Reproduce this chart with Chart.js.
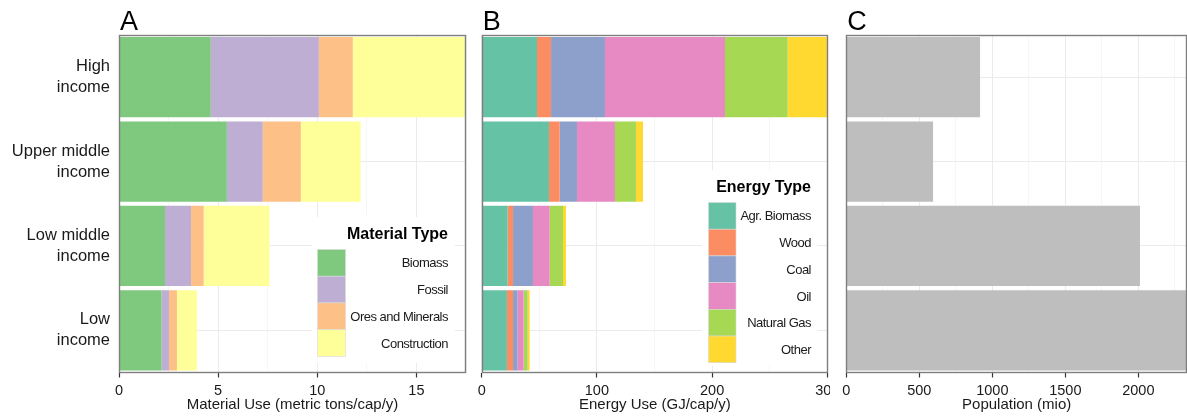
<!DOCTYPE html>
<html>
<head>
<meta charset="utf-8">
<script src="https://cdn.jsdelivr.net/npm/chart.js@4.4.1/dist/chart.umd.min.js"></script>
<style>
  html, body { margin: 0; padding: 0; background: #fff; }
  #wrap { position: relative; width: 1187px; height: 418px; overflow: hidden; }
  canvas { position: absolute; top: 0; }
</style>
</head>
<body>
<div id="wrap">
  <canvas id="chartA" width="470" height="418" style="left:0px"></canvas>
  <canvas id="chartB" width="360" height="418" style="left:470px"></canvas>
  <canvas id="chartC" width="353" height="418" style="left:834px"></canvas>
</div>
<script>
// categories (top to bottom)
const incomeGroups = [['High', 'income'], ['Upper middle', 'income'], ['Low middle', 'income'], ['Low', 'income']];

// panel A - material use (metric tons/cap/y)
const materialTypes = ['Biomass', 'Fossil', 'Ores and Minerals', 'Construction'];
const materialColors = ['#7fc97f', '#beaed4', '#fdc086', '#ffff99'];
const biomass = [4.63, 5.44, 2.32, 2.15];
const fossil = [5.45, 1.81, 1.31, 0.37];
const oresMinerals = [1.71, 1.92, 0.64, 0.40];
const construction = [5.71, 3.02, 3.32, 1.01];
const materialTicks = [0, 2.5, 5, 7.5, 10, 12.5, 15, 17.5];
const materialLabels = [0, 5, 10, 15];

// panel B - energy use (GJ/cap/y)
const energyTypes = ['Agr. Biomass', 'Wood', 'Coal', 'Oil', 'Natural Gas', 'Other'];
const energyColors = ['#66c2a5', '#fc8d62', '#8da0cb', '#e78ac3', '#a6d854', '#ffd92f'];
const agrBiomass = [48.0, 58.4, 22.5, 21.9];
const wood = [12.2, 9.3, 4.7, 5.3];
const coal = [46.8, 15.0, 17.3, 4.0];
const oil = [104.2, 33.0, 14.5, 5.2];
const naturalGas = [54.4, 18.2, 11.6, 3.5];
const otherEnergy = [35.2, 6.1, 2.6, 1.7];
const energyTicks = [0, 50, 100, 150, 200, 250, 300];
const energyLabels = [0, 100, 200, 300];

// panel C - population (mio)
const population = [916, 594, 2011, 2400];
const populationTicks = [0, 250, 500, 750, 1000, 1250, 1500, 1750, 2000, 2250];
const populationLabels = [0, 500, 1000, 1500, 2000];

const FONT = '"Liberation Sans", Arial, Helvetica, sans-serif';
const TEXT = '#1a1a1a';

// panel letter, frame and the boxed legend (ggplot style)
const panelDecor = {
  id: 'panelDecor',
  beforeDatasetsDraw(chart, args, opts) {
    const L = opts.legend;
    if (!L) return;
    const ctx = chart.ctx;
    ctx.save();
    ctx.fillStyle = '#fff';
    ctx.fillRect(L.bg[0], L.bg[1], L.bg[2], L.bg[3]);
    ctx.restore();
  },
  afterDatasetsDraw(chart, args, opts) {
    const { ctx, chartArea: a } = chart;
    ctx.save();
    ctx.strokeStyle = '#7f7f7f';
    ctx.lineWidth = 1.4;
    ctx.strokeRect(Math.round(a.left) + 0.5, Math.round(a.top) + 0.5,
      Math.round(a.right - a.left) - 1, Math.round(a.bottom - a.top) - 1);

    ctx.fillStyle = '#000';
    ctx.font = '27px ' + FONT;
    ctx.textAlign = 'left';
    ctx.textBaseline = 'alphabetic';
    ctx.fillText(opts.letter, a.left + 1, 30);

    const L = opts.legend;
    if (L) {
      ctx.font = 'bold 16px ' + FONT;
      ctx.textAlign = 'right';
      ctx.textBaseline = 'middle';
      ctx.fillStyle = '#000';
      ctx.fillText(L.title, L.right, L.titleY);
      ctx.font = '13px ' + FONT;
      ctx.letterSpacing = '-0.5px';
      chart.data.datasets.forEach((ds, i) => {
        const y = L.top + i * L.h;
        ctx.fillStyle = ds.backgroundColor;
        ctx.fillRect(L.boxX, y, L.boxW, L.h);
        ctx.strokeStyle = '#d9d9d9';
        ctx.lineWidth = 0.6;
        ctx.strokeRect(L.boxX, y, L.boxW, L.h);
        ctx.fillStyle = TEXT;
        ctx.fillText(ds.label, L.right, y + L.h / 2 + 1);
      });
    }
    ctx.restore();
  }
};

function panelChart(id, p) {
  const major = v => p.labels.includes(v);
  return new Chart(document.getElementById(id), {
    type: 'bar',
    data: {
      labels: incomeGroups,
      datasets: p.datasets.map(d => ({
        label: d.label,
        data: d.data,
        backgroundColor: d.color,
        borderWidth: 0,
        barPercentage: 0.95,
        categoryPercentage: 1.0
      }))
    },
    plugins: [panelDecor],
    options: {
      indexAxis: 'y',
      responsive: false,
      devicePixelRatio: 1,
      animation: false,
      layout: { padding: { top: 35, left: 0, right: p.padRight, bottom: 0 } },
      plugins: {
        legend: { display: false },
        tooltip: { enabled: false },
        panelDecor: { letter: p.letter, legend: p.legend }
      },
      scales: {
        x: {
          stacked: true,
          min: 0,
          max: p.max,
          border: { display: false },
          grid: {
            color: c => major(c.tick.value) ? '#ebebeb' : '#f6f6f6',
            lineWidth: 1,
            drawTicks: true,
            tickLength: 5,
            tickWidth: 1.2,
            tickColor: c => major(c.tick.value) ? '#333' : 'rgba(0,0,0,0)'
          },
          ticks: {
            autoSkip: false,
            maxRotation: 0,
            padding: 5,
            color: TEXT,
            font: { family: FONT, size: 14.5 },
            callback: v => major(v) ? String(v) : ''
          },
          title: {
            display: true,
            text: p.xTitle,
            color: TEXT,
            font: { family: FONT, size: 15 },
            padding: { top: 0, bottom: 4 }
          },
          afterBuildTicks(s) { s.ticks = p.ticks.map(v => ({ value: v })); },
          afterFit(s) { s.height = 45.5; s.paddingLeft = 0; s.paddingRight = 0; }
        },
        y: {
          stacked: true,
          offset: true,
          border: { display: false },
          grid: { offset: false, color: '#ebebeb', drawTicks: false },
          ticks: {
            display: p.showY,
            padding: 9,
            color: TEXT,
            font: { family: FONT, size: 16.5, lineHeight: 1.27 }
          },
          afterFit(s) { s.width = p.yWidth; s.paddingTop = 0; s.paddingBottom = 0; }
        }
      }
    }
  });
}

panelChart('chartA', {
  letter: 'A',
  datasets: [
    { label: materialTypes[0], data: biomass, color: materialColors[0] },
    { label: materialTypes[1], data: fossil, color: materialColors[1] },
    { label: materialTypes[2], data: oresMinerals, color: materialColors[2] },
    { label: materialTypes[3], data: construction, color: materialColors[3] }
  ],
  max: 17.5, ticks: materialTicks, labels: materialLabels,
  yWidth: 119, padRight: 4, showY: true,
  xTitle: 'Material Use (metric tons/cap/y)',
  legend: { title: 'Material Type', bg: [312, 217, 143, 146], right: 448, titleY: 235,
            boxX: 317.5, boxW: 28, top: 249.5, h: 26.7 }
});

panelChart('chartB', {
  letter: 'B',
  datasets: [
    { label: energyTypes[0], data: agrBiomass, color: energyColors[0] },
    { label: energyTypes[1], data: wood, color: energyColors[1] },
    { label: energyTypes[2], data: coal, color: energyColors[2] },
    { label: energyTypes[3], data: oil, color: energyColors[3] },
    { label: energyTypes[4], data: naturalGas, color: energyColors[4] },
    { label: energyTypes[5], data: otherEnergy, color: energyColors[5] }
  ],
  max: 300.6, ticks: energyTicks, labels: energyLabels,
  yWidth: 11.7, padRight: 2, showY: false,
  xTitle: 'Energy Use (GJ/cap/y)',
  legend: { title: 'Energy Type', bg: [232, 170, 115, 196], right: 341, titleY: 188,
            boxX: 238.5, boxW: 27.5, top: 202.5, h: 26.7 }
});

panelChart('chartC', {
  letter: 'C',
  datasets: [
    { label: 'Population', data: population, color: '#bebebe' }
  ],
  max: 2333, ticks: populationTicks, labels: populationLabels,
  yWidth: 12.3, padRight: 0, showY: false,
  xTitle: 'Population (mio)',
  legend: null
});
</script>
</body>
</html>
